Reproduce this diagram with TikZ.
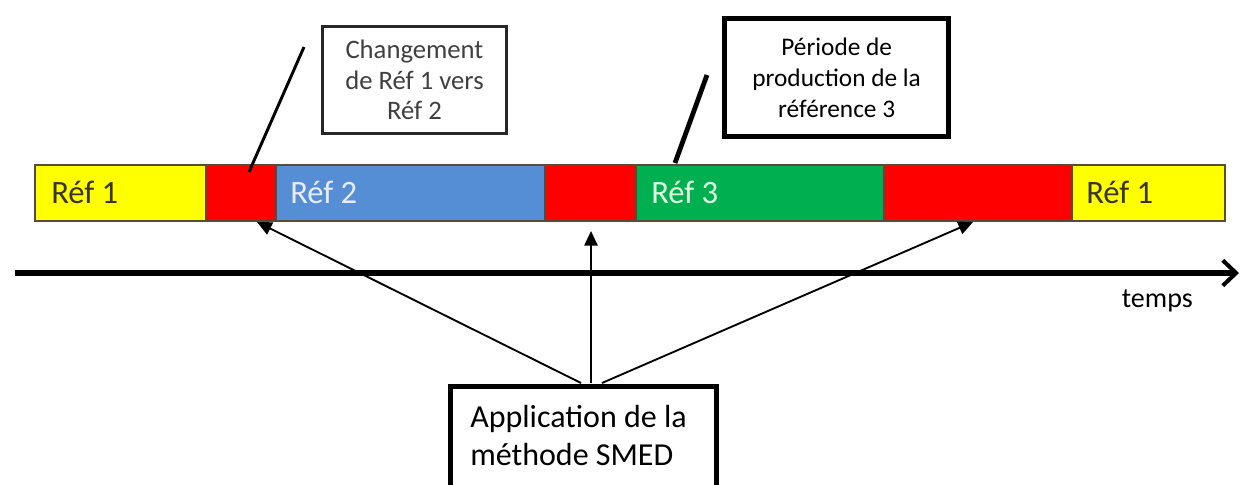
\documentclass[tikz,border=0pt]{standalone}
\usepackage{fontspec}
\setmainfont{Carlito}
\usetikzlibrary{arrows.meta}
\definecolor{ryellow}{HTML}{FFFF00}
\definecolor{rred}{HTML}{FF0000}
\definecolor{rblue}{HTML}{558ED5}
\definecolor{rgreen}{HTML}{00B050}
\definecolor{segline}{HTML}{5A4A3A}
\definecolor{greytext}{HTML}{404040}
\tikzset{
  seg/.style={draw=segline, line width=1pt, minimum height=56*0.75pt, inner sep=0pt, anchor=north west, outer sep=0pt},
  seglabel/.style={font=\fontsize{24.5}{28}\selectfont, anchor=base west, inner sep=0pt},
  callout/.style={draw, fill=white, align=center, anchor=north west, inner sep=0pt},
  arr/.style={-{Triangle[length=11pt,width=10pt]}, line width=1.4pt},
}
\begin{document}
\begin{tikzpicture}[x=0.75pt,y=-0.75pt]
\useasboundingbox (0,0) rectangle (1243,485);
% bar segments
\node[seg, fill=ryellow, minimum width=171*0.75pt] (y1) at (35,165) {};
\node[seg, fill=rred, minimum width=70*0.75pt] (r1) at (206,165) {};
\node[seg, fill=rblue, minimum width=269*0.75pt] (b2) at (276,165) {};
\node[seg, fill=rred, minimum width=91*0.75pt] (r2) at (545,165) {};
\node[seg, fill=rgreen, minimum width=248*0.75pt] (g3) at (636,165) {};
\node[seg, fill=rred, minimum width=188*0.75pt] (r3) at (884,165) {};
\node[seg, fill=ryellow, minimum width=153*0.75pt] (y4) at (1072,165) {};
% bar labels
\node[seglabel, text=black!80!olive] (ly1) at (51,203) {Réf 1};
\node[seglabel, text=white!92!blue] (lb2) at (290,203) {Réf 2};
\node[seglabel, text=white!88!green] (lg3) at (651,203) {Réf 3};
\node[seglabel, text=black!80!olive] (ly4) at (1086,203) {Réf 1};
% time axis
\coordinate (ax0) at (15,273);
\coordinate (ax1) at (1239,273);
\draw[line width=3.8pt, -{Straight Barb[length=10pt,width=19pt,line width=3pt]}] (ax0) -- (ax1);
\node[font=\fontsize{21}{25}\selectfont, anchor=base east, inner sep=0pt] (temps) at (1193,307) {temps};
% callout 1
\node[callout, draw=black!85, line width=2.2pt, text=greytext, minimum width=184*0.75pt, minimum height=107*0.75pt, font=\fontsize{20}{23}\selectfont] (c1) at (321,25) {Changement\\de Réf 1 vers\\Réf 2};
\coordinate (c1a) at (304,47);
\coordinate (c1b) at (249,172);
\draw[line width=2.2pt] (c1a) -- (c1b);
% callout 2
\node[callout, line width=4pt, minimum width=224*0.75pt, minimum height=118*0.75pt, font=\fontsize{19}{23.5}\selectfont] (c2) at (722,16) {Période de\\production de la\\référence 3};
\coordinate (c2a) at (707,75);
\coordinate (c2b) at (675,163);
\draw[line width=3.6pt] (c2a) -- (c2b);
% SMED box
\node[draw, line width=4pt, fill=white, minimum width=266*0.75pt, minimum height=115*0.75pt, anchor=north west, inner sep=0pt] (smed) at (448,384) {};
\node[font=\fontsize{24}{29}\selectfont, align=left, anchor=base west, inner sep=0pt] (smedt1) at (470,427) {Application de la};
\node[font=\fontsize{24}{29}\selectfont, align=left, anchor=base west, inner sep=0pt] (smedt2) at (470,465) {méthode SMED};
% arrows
\coordinate (s1) at (581,383);
\coordinate (s2) at (591,383);
\coordinate (s3) at (602,383);
\coordinate (t1) at (257,222);
\coordinate (t2) at (591,231);
\coordinate (t3) at (973,222);
\draw[arr] (s1) -- (t1);
\draw[arr] (s2) -- (t2);
\draw[arr] (s3) -- (t3);
\end{tikzpicture}
\end{document}
